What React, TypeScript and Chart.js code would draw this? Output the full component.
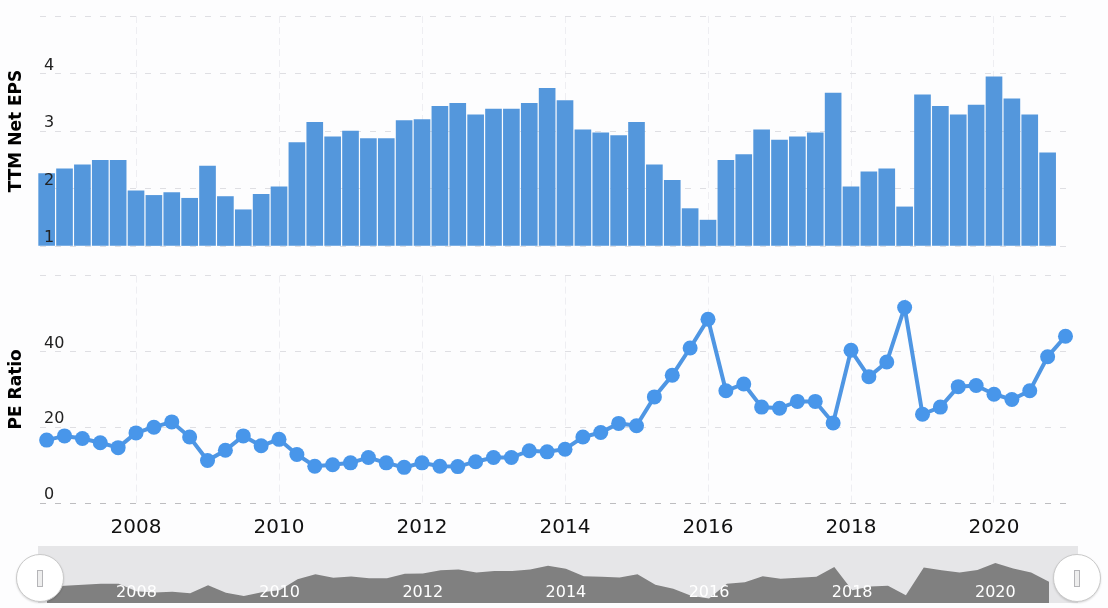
import React, { useEffect, useRef } from 'react';
import Chart from 'chart.js/auto';

const quarters = [
  2006.75, 2007, 2007.25, 2007.5, 2007.75, 2008, 2008.25, 2008.5, 2008.75, 2009, 2009.25, 2009.5, 2009.75,
  2010, 2010.25, 2010.5, 2010.75, 2011, 2011.25, 2011.5, 2011.75, 2012, 2012.25, 2012.5, 2012.75,
  2013, 2013.25, 2013.5, 2013.75, 2014, 2014.25, 2014.5, 2014.75, 2015, 2015.25, 2015.5, 2015.75,
  2016, 2016.25, 2016.5, 2016.75, 2017, 2017.25, 2017.5, 2017.75, 2018, 2018.25, 2018.5, 2018.75,
  2019, 2019.25, 2019.5, 2019.75, 2020, 2020.25, 2020.5, 2020.75, 2021,
];

// TTM net EPS, one value per quarter (no bar yet for the last quarter)
const eps = [
  2.26, 2.34, 2.41, 2.49, 2.49, 1.96, 1.88, 1.93, 1.83, 2.39, 1.86, 1.63, 1.9,
  2.03, 2.8, 3.15, 2.9, 3.0, 2.87, 2.87, 3.18, 3.2, 3.43, 3.48, 3.28,
  3.38, 3.38, 3.48, 3.74, 3.53, 3.02, 2.97, 2.92, 3.15, 2.41, 2.14, 1.65,
  1.45, 2.49, 2.59, 3.02, 2.84, 2.9, 2.97, 3.66, 2.03, 2.29, 2.34, 1.68,
  3.63, 3.43, 3.28, 3.45, 3.94, 3.56, 3.28, 2.62,
];

const peRatio = [
  16.6, 17.7, 17.0, 15.9, 14.6, 18.5, 20.0, 21.4, 17.4, 11.2, 13.9, 17.7, 15.1,
  16.8, 12.8, 9.7, 10.1, 10.6, 12.0, 10.6, 9.4, 10.6, 9.7, 9.6, 10.9,
  12.0, 12.0, 13.8, 13.5, 14.2, 17.4, 18.6, 21.0, 20.4, 28.0, 33.7, 40.9,
  48.5, 29.6, 31.4, 25.3, 25.0, 26.8, 26.8, 21.1, 40.3, 33.3, 37.2, 51.6,
  23.4, 25.3, 30.7, 31.0, 28.7, 27.3, 29.6, 38.6, 44.0,
];

const toPoints = (values: number[]) => values.map((y, i) => ({ x: quarters[i], y }));

const TICK_FONT = { family: 'DejaVu Sans', size: 16 };
const TITLE_FONT = { family: 'DejaVu Sans', size: 17, weight: 'bold' as const };
const YEAR_COLOR = '#111';

const xAxis = (extra: any) => ({
  type: 'linear',
  min: 2006.657,
  max: 2021.035,
  offset: false,
  grid: { offset: false, color: '#eeeef2', drawTicks: false },
  border: { display: false, dash: [7, 4] },
  ...extra,
});

const yAxis = (title: string, min: number, max: number, step: number, zeroColor?: string) => ({
  min,
  max,
  afterFit: (scale: any) => {
    scale.width = 40;
  },
  title: { display: true, text: title, color: '#000', font: TITLE_FONT, padding: { top: 6, bottom: 0 } },
  grid: {
    color: (c: any) => (zeroColor && c.tick.value === min ? zeroColor : '#dfdfe3'),
    drawTicks: false,
  },
  border: { display: false, dash: [6, 9] },
  ticks: {
    mirror: true,
    stepSize: step,
    padding: 4,
    labelOffset: -8,
    z: 2,
    color: '#222',
    font: TICK_FONT,
    callback: (v: any) => (v === max ? '' : String(v)),
  },
});

const basePlugins = { legend: { display: false }, tooltip: { enabled: false } };

const absolute = (left: number, top: number, width: number, height: number): React.CSSProperties => ({
  position: 'absolute',
  left,
  top,
  width,
  height,
});

const Handle = ({ x }: { x: number }) => (
  <div
    style={{
      ...absolute(x - 23, 554, 46, 46),
      borderRadius: '50%',
      background: '#fff',
      border: '1px solid #c9c9c9',
      boxShadow: '0 1px 2px rgba(0,0,0,0.15)',
    }}
  >
    <div style={{ ...absolute(20, 15, 4, 15), border: '1px solid #b5b5b8', background: '#eee' }} />
  </div>
);

export default function App() {
  const epsRef = useRef<HTMLCanvasElement>(null);
  const peRef = useRef<HTMLCanvasElement>(null);
  const navRef = useRef<HTMLCanvasElement>(null);

  useEffect(() => {
    const epsChart = new Chart(epsRef.current!, {
      type: 'bar',
      data: {
        datasets: [
          {
            data: toPoints(eps),
            base: 1,
            backgroundColor: '#5497dc',
            barThickness: 16,
            clip: false,
          },
        ],
      },
      options: {
        responsive: false,
        animation: false,
        layout: { padding: { top: 16, right: 40, bottom: 16 } },
        plugins: basePlugins,
        scales: {
          x: xAxis({
            ticks: { display: false, stepSize: 2, includeBounds: false, autoSkip: false },
            afterFit: (scale: any) => {
              scale.height = 0;
            },
          }),
          y: yAxis('TTM Net EPS', 1, 5, 1),
        },
      },
    } as any);

    const peChart = new Chart(peRef.current!, {
      type: 'line',
      data: {
        datasets: [
          {
            data: toPoints(peRatio),
            borderColor: '#4f96e3',
            borderWidth: 4,
            backgroundColor: '#4896ea',
            pointRadius: 7.5,
            pointBorderWidth: 0,
            tension: 0,
            clip: false,
          },
        ],
      },
      options: {
        responsive: false,
        animation: false,
        layout: { padding: { top: 11, right: 40 } },
        plugins: basePlugins,
        scales: {
          x: xAxis({
            afterFit: (scale: any) => {
              scale.height = 37;
            },
            ticks: {
              stepSize: 2,
              includeBounds: false,
              autoSkip: false,
              maxRotation: 0,
              padding: 13,
              color: YEAR_COLOR,
              font: { family: 'DejaVu Sans', size: 20 },
              callback: (v: any) => String(v),
            },
          }),
          y: yAxis('PE Ratio', 0, 60, 20, '#bdbdc0'),
        },
      },
    } as any);

    const navChart = new Chart(navRef.current!, {
      type: 'line',
      data: {
        datasets: [
          {
            data: toPoints(eps),
            borderWidth: 0,
            pointRadius: 0,
            backgroundColor: '#808080',
            fill: 'origin',
            tension: 0,
          },
        ],
      },
      options: {
        responsive: false,
        animation: false,
        layout: { padding: { left: 38, right: 30, top: 6, bottom: 5 } },
        plugins: basePlugins,
        scales: {
          x: {
            type: 'linear',
            min: 2006.624,
            max: 2021.155,
            grid: { display: false },
            border: { display: false },
            afterFit: (scale: any) => {
              scale.height = 0;
            },
            ticks: {
              // mirror stops the labels being clipped to the zero-height axis,
              // and with mirror a positive padding moves them up into the plot
              mirror: true,
              stepSize: 2,
              includeBounds: false,
              autoSkip: false,
              maxRotation: 0,
              padding: 1,
              z: 2,
              color: '#ffffff',
              font: { family: 'DejaVu Sans', size: 16 },
              callback: (v: any) => String(v),
            },
          },
          y: { display: false, min: 1.14, max: 5.13 },
        },
      },
    } as any);

    return () => {
      epsChart.destroy();
      peChart.destroy();
      navChart.destroy();
    };
  }, []);

  return (
    <div style={{ position: 'fixed', inset: 0, background: '#fdfdfe', overflow: 'hidden' }}>
      <canvas ref={epsRef} width={1108} height={262} style={absolute(0, 0, 1108, 262)} />
      <canvas ref={peRef} width={1108} height={278} style={absolute(0, 262, 1108, 278)} />
      <div style={{ ...absolute(38, 546, 1040, 57), background: '#e6e6e8' }} />
      <canvas ref={navRef} width={1108} height={68} style={absolute(0, 540, 1108, 68)} />
      <Handle x={39} />
      <Handle x={1076} />
    </div>
  );
}
